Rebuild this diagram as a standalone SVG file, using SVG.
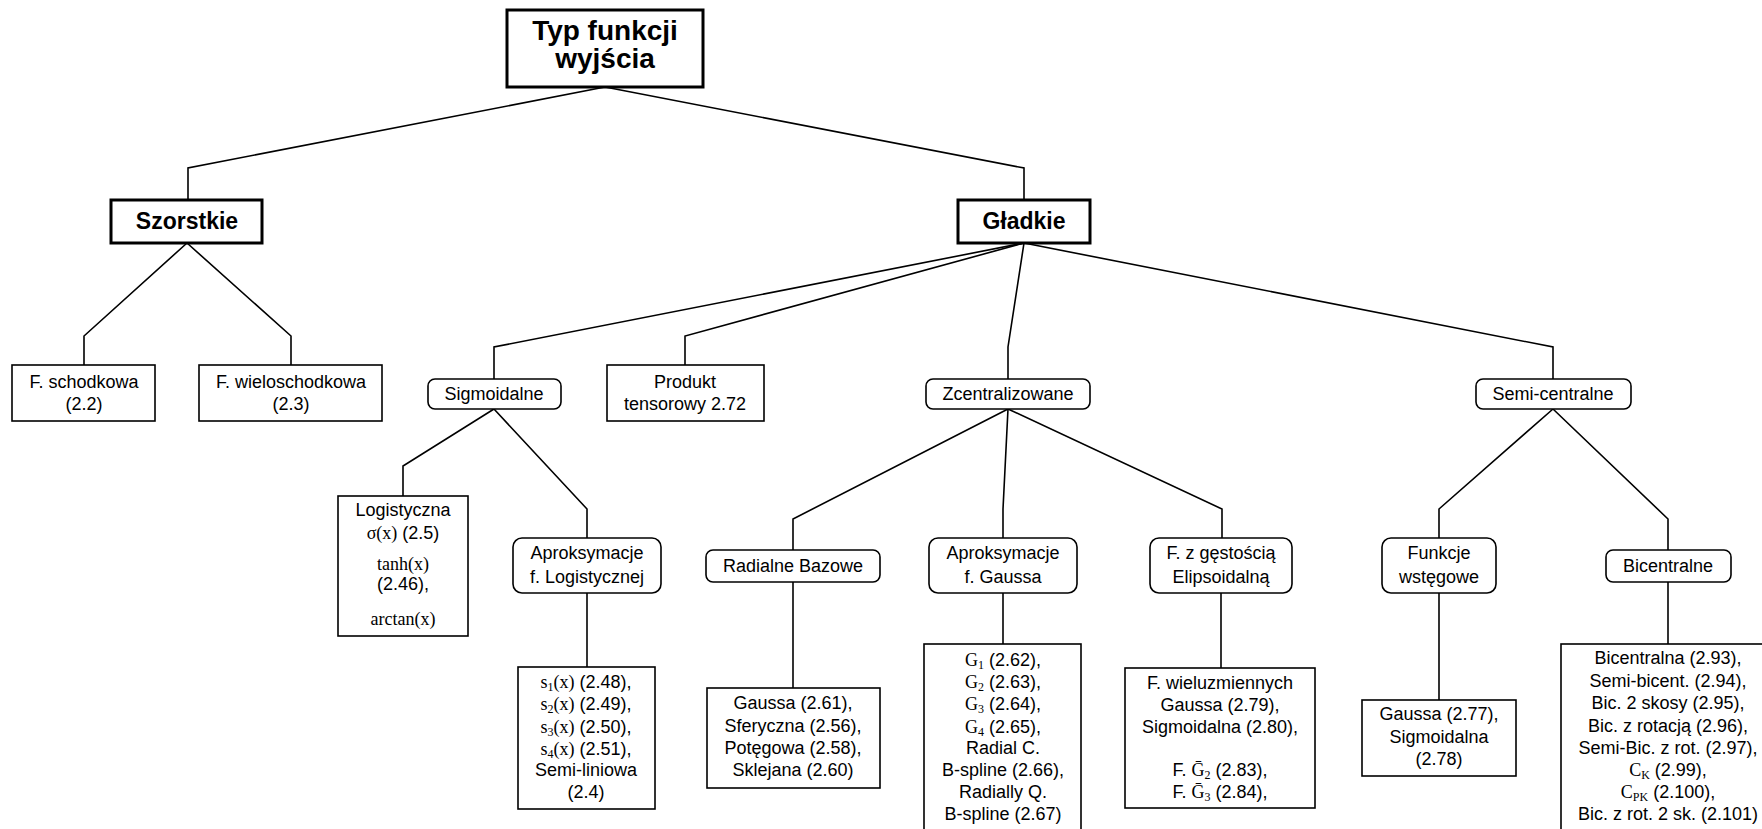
<svg xmlns="http://www.w3.org/2000/svg" width="1762" height="829" viewBox="0 0 1762 829">
<style>
.bg{fill:#fff}
.bx{fill:#fff;stroke:#000;stroke-width:1.6}
.bb{fill:#fff;stroke:#000;stroke-width:3}
.t{font-family:"Liberation Sans",Arial,sans-serif;font-size:18px;fill:#000;text-anchor:middle}
.tb{font-family:"Liberation Sans",Arial,sans-serif;font-weight:bold;fill:#000;text-anchor:middle}
.m{font-family:"Liberation Serif","DejaVu Serif",serif}
.sub{font-family:"Liberation Serif","DejaVu Serif",serif;font-size:12px}
.c{fill:none;stroke:#000;stroke-width:1.6}
</style>
<rect class="bg" x="0" y="0" width="1762" height="829"/>
<g id="connectors">
<polyline class="c" points="605,87 188,168 188,200"/>
<polyline class="c" points="605,87 1024,168 1024,200"/>
<polyline class="c" points="187,243 84,336 84,365"/>
<polyline class="c" points="187,243 291,336 291,365"/>
<polyline class="c" points="1024,243 494,347 494,379"/>
<polyline class="c" points="1024,243 685,336 685,365"/>
<polyline class="c" points="1024,243 1008,347 1008,379"/>
<polyline class="c" points="1024,243 1553,347 1553,379"/>
<polyline class="c" points="494,409 403,466 403,496"/>
<polyline class="c" points="494,409 587,509 587,538"/>
<polyline class="c" points="587,593 587,667"/>
<polyline class="c" points="1008,409 793,519 793,550"/>
<polyline class="c" points="1008,409 1003,509 1003,538"/>
<polyline class="c" points="1008,409 1222,509 1222,538"/>
<polyline class="c" points="793,582 793,688"/>
<polyline class="c" points="1003,593 1003,644"/>
<polyline class="c" points="1221,593 1221,668"/>
<polyline class="c" points="1553,409 1439,509 1439,538"/>
<polyline class="c" points="1553,409 1668,519 1668,550"/>
<polyline class="c" points="1439,593 1439,700"/>
<polyline class="c" points="1668,582 1668,644"/>
</g>
<g id="root">
<rect class="bb" x="507" y="10" width="196" height="77"/>
<text class="tb" font-size="28" x="605" y="40">Typ funkcji</text>
<text class="tb" font-size="28" x="605" y="68">wyjścia</text>
</g>
<g id="szorstkie">
<rect class="bb" x="111" y="200" width="151" height="43"/>
<text class="tb" font-size="23" x="187" y="229">Szorstkie</text>
</g>
<g id="gladkie">
<rect class="bb" x="958" y="200" width="132" height="43"/>
<text class="tb" font-size="23" x="1024" y="229">Gładkie</text>
</g>
<g id="schodkowa">
<rect class="bx" x="12" y="365" width="143" height="56"/>
<text class="t" x="84" y="388">F. schodkowa</text>
<text class="t" x="84" y="410">(2.2)</text>
</g>
<g id="wieloschodkowa">
<rect class="bx" x="199" y="365" width="183" height="56"/>
<text class="t" x="291" y="388">F. wieloschodkowa</text>
<text class="t" x="291" y="410">(2.3)</text>
</g>
<g id="sigmoidalne">
<rect class="bx" x="428" y="379" width="133" height="30" rx="7"/>
<text class="t" x="494" y="400">Sigmoidalne</text>
</g>
<g id="produkt">
<rect class="bx" x="607" y="365" width="157" height="56"/>
<text class="t" x="685" y="388">Produkt</text>
<text class="t" x="685" y="410">tensorowy 2.72</text>
</g>
<g id="zcentralizowane">
<rect class="bx" x="926" y="379" width="164" height="30" rx="7"/>
<text class="t" x="1008" y="400">Zcentralizowane</text>
</g>
<g id="semicentralne">
<rect class="bx" x="1476" y="379" width="155" height="30" rx="7"/>
<text class="t" x="1553" y="400">Semi-centralne</text>
</g>
<g id="logistyczna">
<rect class="bx" x="338" y="496" width="130" height="140"/>
<text class="t" x="403" y="516">Logistyczna</text>
<text class="t" x="403" y="539"><tspan class="m">σ(x)</tspan> (2.5)</text>
<text class="t" x="403" y="570"><tspan class="m">tanh(x)</tspan></text>
<text class="t" x="403" y="590">(2.46),</text>
<text class="t" x="403" y="625"><tspan class="m">arctan(x)</tspan></text>
</g>
<g id="aprox-log">
<rect class="bx" x="513" y="538" width="148" height="55" rx="9"/>
<text class="t" x="587" y="559">Aproksymacje</text>
<text class="t" x="587" y="583">f. Logistycznej</text>
</g>
<g id="s-funcs">
<rect class="bx" x="518" y="667" width="137" height="142"/>
<text class="t" x="586" y="688"><tspan class="m">s</tspan><tspan class="sub" dy="3">1</tspan><tspan class="m" dy="-3">(x)</tspan> (2.48),</text>
<text class="t" x="586" y="710"><tspan class="m">s</tspan><tspan class="sub" dy="3">2</tspan><tspan class="m" dy="-3">(x)</tspan> (2.49),</text>
<text class="t" x="586" y="733"><tspan class="m">s</tspan><tspan class="sub" dy="3">3</tspan><tspan class="m" dy="-3">(x)</tspan> (2.50),</text>
<text class="t" x="586" y="755"><tspan class="m">s</tspan><tspan class="sub" dy="3">4</tspan><tspan class="m" dy="-3">(x)</tspan> (2.51),</text>
<text class="t" x="586" y="776">Semi-liniowa</text>
<text class="t" x="586" y="798">(2.4)</text>
</g>
<g id="radialne">
<rect class="bx" x="706" y="550" width="174" height="32" rx="7"/>
<text class="t" x="793" y="572">Radialne Bazowe</text>
</g>
<g id="gaussa-rbf">
<rect class="bx" x="707" y="688" width="173" height="100"/>
<text class="t" x="793" y="709">Gaussa (2.61),</text>
<text class="t" x="793" y="732">Sferyczna (2.56),</text>
<text class="t" x="793" y="754">Potęgowa (2.58),</text>
<text class="t" x="793" y="776">Sklejana (2.60)</text>
</g>
<g id="aprox-gauss">
<rect class="bx" x="929" y="538" width="148" height="55" rx="9"/>
<text class="t" x="1003" y="559">Aproksymacje</text>
<text class="t" x="1003" y="583">f. Gaussa</text>
</g>
<g id="g-funcs">
<rect class="bx" x="924" y="644" width="157" height="200"/>
<text class="t" x="1003" y="666"><tspan class="m">G</tspan><tspan class="sub" dy="3">1</tspan><tspan dy="-3"> (2.62),</tspan></text>
<text class="t" x="1003" y="688"><tspan class="m">G</tspan><tspan class="sub" dy="3">2</tspan><tspan dy="-3"> (2.63),</tspan></text>
<text class="t" x="1003" y="710"><tspan class="m">G</tspan><tspan class="sub" dy="3">3</tspan><tspan dy="-3"> (2.64),</tspan></text>
<text class="t" x="1003" y="733"><tspan class="m">G</tspan><tspan class="sub" dy="3">4</tspan><tspan dy="-3"> (2.65),</tspan></text>
<text class="t" x="1003" y="754">Radial C.</text>
<text class="t" x="1003" y="776">B-spline (2.66),</text>
<text class="t" x="1003" y="798">Radially Q.</text>
<text class="t" x="1003" y="820">B-spline (2.67)</text>
</g>
<g id="elipsoidalna">
<rect class="bx" x="1150" y="538" width="142" height="55" rx="9"/>
<text class="t" x="1221" y="559">F. z gęstością</text>
<text class="t" x="1221" y="583">Elipsoidalną</text>
</g>
<g id="wieluzmiennych">
<rect class="bx" x="1125" y="668" width="190" height="140"/>
<text class="t" x="1220" y="689">F. wieluzmiennych</text>
<text class="t" x="1220" y="711">Gaussa (2.79),</text>
<text class="t" x="1220" y="733">Sigmoidalna (2.80),</text>
<text class="t" x="1220" y="776">F. <tspan class="m">Ḡ</tspan><tspan class="sub" dy="3">2</tspan><tspan dy="-3"> (2.83),</tspan></text>
<text class="t" x="1220" y="798">F. <tspan class="m">Ḡ</tspan><tspan class="sub" dy="3">3</tspan><tspan dy="-3"> (2.84),</tspan></text>
</g>
<g id="wstegowe">
<rect class="bx" x="1382" y="538" width="114" height="55" rx="9"/>
<text class="t" x="1439" y="559">Funkcje</text>
<text class="t" x="1439" y="583">wstęgowe</text>
</g>
<g id="gaussa-wst">
<rect class="bx" x="1362" y="700" width="154" height="76"/>
<text class="t" x="1439" y="720">Gaussa (2.77),</text>
<text class="t" x="1439" y="743">Sigmoidalna</text>
<text class="t" x="1439" y="765">(2.78)</text>
</g>
<g id="bicentralne">
<rect class="bx" x="1606" y="550" width="125" height="32" rx="7"/>
<text class="t" x="1668" y="572">Bicentralne</text>
</g>
<g id="bicentralna-list">
<rect class="bx" x="1561" y="644" width="220" height="200"/>
<text class="t" x="1668" y="664">Bicentralna (2.93),</text>
<text class="t" x="1668" y="687">Semi-bicent. (2.94),</text>
<text class="t" x="1668" y="709">Bic. 2 skosy (2.95),</text>
<text class="t" x="1668" y="732">Bic. z rotacją (2.96),</text>
<text class="t" x="1668" y="754">Semi-Bic. z rot. (2.97),</text>
<text class="t" x="1668" y="776"><tspan class="m">C</tspan><tspan class="sub" dy="3">K</tspan><tspan dy="-3"> (2.99),</tspan></text>
<text class="t" x="1668" y="798"><tspan class="m">C</tspan><tspan class="sub" dy="3">PK</tspan><tspan dy="-3"> (2.100),</tspan></text>
<text class="t" x="1668" y="820">Bic. z rot. 2 sk. (2.101)</text>
</g>
</svg>
